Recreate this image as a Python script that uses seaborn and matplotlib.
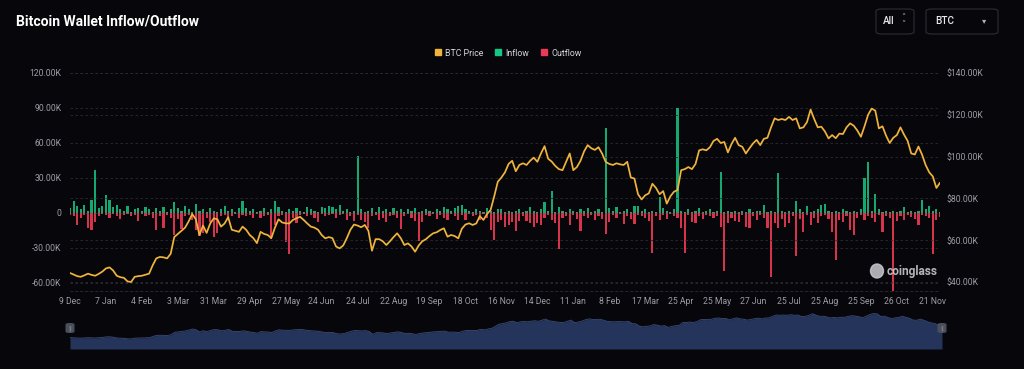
import matplotlib
matplotlib.use("Agg")
import matplotlib.pyplot as plt
from matplotlib.lines import Line2D
from matplotlib.patches import FancyBboxPatch, Ellipse
from matplotlib.ticker import FuncFormatter
import numpy as np
import pandas as pd
import seaborn as sns

# ------------------------------------------------------------------
# Data (values in thousands), one point every ~3 days, Dec 2023 - Nov 2025
# ------------------------------------------------------------------
tick_labels = [
    "9 Dec", "7 Jan", "4 Feb", "3 Mar", "31 Mar", "29 Apr", "27 May", "24 Jun",
    "24 Jul", "22 Aug", "19 Sep", "18 Oct", "16 Nov", "14 Dec", "11 Jan", "8 Feb",
    "17 Mar", "25 Apr", "25 May", "27 Jun", "25 Jul", "25 Aug", "25 Sep", "26 Oct",
    "21 Nov",
]

price_k = [
    44.3, 43.6, 42.8, 42.5, 43.2, 44.0, 43.4, 43.0, 43.9, 45.0,
    46.5, 47.0, 45.5, 43.0, 42.3, 42.0, 40.3, 40.0, 42.5, 42.8,
    43.0, 43.5, 44.0, 48.0, 51.3, 52.0, 51.8, 51.3, 53.5, 61.5,
    63.0, 64.5, 66.0, 69.0, 72.5, 70.0, 62.5, 67.0, 63.5, 68.0,
    70.5, 70.0, 66.5, 68.0, 71.0, 65.0, 64.5, 64.0, 66.5, 65.0,
    62.5, 61.0, 58.6, 64.0, 63.0, 62.5, 61.0, 66.0, 70.0, 68.5,
    68.1, 68.0, 69.7, 70.5, 71.2, 69.7, 68.0, 66.5, 66.0, 65.0,
    62.5, 60.9, 61.5, 61.0, 57.0, 56.1, 57.5, 61.0, 65.0, 67.5,
    67.0, 66.2, 67.3, 64.5, 55.0, 60.5, 60.5, 59.5, 57.7, 59.5,
    61.5, 63.3, 61.0, 57.7, 58.5, 57.0, 54.5, 57.5, 59.5, 60.5,
    62.0, 63.3, 63.8, 64.9, 65.7, 61.7, 62.5, 62.0, 60.9, 65.5,
    67.5, 68.1, 67.3, 68.0, 71.5, 69.7, 72.5, 74.5, 81.0, 88.0,
    90.0, 92.5, 96.5, 98.0, 93.0, 96.0, 96.8, 96.0, 98.0, 99.5,
    97.5, 101.5, 105.0, 99.0, 97.6, 95.5, 94.0, 93.5, 97.5, 101.5,
    93.5, 95.0, 98.0, 102.5, 105.5, 104.0, 103.2, 104.5, 101.5, 97.5,
    96.5, 96.0, 96.8, 96.3, 96.0, 97.5, 90.0, 89.5, 82.0, 79.5,
    81.5, 82.4, 87.0, 85.0, 82.0, 83.5, 77.5, 81.0, 83.2, 84.0,
    93.5, 94.0, 95.0, 94.0, 96.5, 103.0, 103.5, 103.0, 104.5, 107.5,
    108.5, 106.5, 107.0, 102.0, 106.0, 109.0, 105.5, 104.7, 101.5, 104.0,
    106.3, 108.0, 105.5, 108.5, 109.0, 114.0, 118.3, 117.5, 118.0, 117.5,
    119.0, 117.5, 118.3, 113.5, 114.0, 116.5, 122.5, 118.0, 114.0, 114.3,
    112.0, 108.7, 110.3, 108.8, 111.0, 110.8, 114.0, 115.9, 114.8, 112.5,
    109.5, 114.5, 120.0, 123.0, 122.0, 113.5, 114.5, 110.0, 106.5, 109.0,
    110.3, 114.0, 110.5, 107.5, 101.5, 101.0, 104.8, 101.0, 96.0, 92.5,
    90.5, 85.0, 87.5,
]

inflow_k = [
    4, 10, 6, 3, 7, 2, 11, 37, 4, 6,
    15, 11, 5, 7, 3, 2, 6, 1, 3, 4,
    2, 5, 3, 1, 4, 2, 5, 1, 3, 9,
    4, 2, 6, 3, 1, 8, 2, 3, 1, 4,
    2, 1, 3, 6, 2, 3, 1, 4, 10, 4,
    2, 3, 1, 2, 4, 1, 3, 10, 5, 2,
    1, 3, 2, 4, 2, 1, 5, 3, 2, 1,
    5, 4, 6, 5, 3, 7, 2, 3, 1, 2,
    49, 3, 1, 2, 4, 1, 5, 2, 3, 1,
    4, 2, 3, 1, 3, 2, 4, 1, 2, 3,
    2, 1, 3, 2, 5, 3, 2, 4, 6, 7,
    3, 2, 1, 3, 2, 1, 4, 2, 1, 3,
    3, 1, 2, 1, 2, 3, 1, 2, 5, 2,
    1, 3, 9, 2, 19, 1, 5, 2, 1, 3,
    2, 1, 3, 2, 4, 1, 2, 3, 1, 73,
    4, 2, 5, 1, 2, 3, 1, 6, 6, 2,
    3, 1, 2, 1, 14, 4, 2, 1, 3, 90,
    2, 1, 3, 1, 2, 4, 1, 2, 3, 1,
    2, 35, 1, 2, 1, 2, 1, 2, 1, 3,
    1, 2, 2, 7, 1, 2, 1, 34, 2, 1,
    2, 1, 10, 3, 1, 6, 1, 2, 3, 7,
    8, 2, 1, 2, 1, 3, 2, 1, 2, 1,
    3, 30, 44, 2, 16, 3, 1, 2, 1, 2,
    1, 2, 5, 1, 2, 1, 2, 11, 3, 6,
    2, 3, 1,
]

outflow_k = [
    -2, -3, -10, -4, -2, -13, -15, -8, -3, -1,
    -2, -4, -1, -3, -5, -2, -1, -3, -2, -7,
    -1, -3, -2, -4, -15, -3, -13, -2, -4, -19,
    -5, -14, -3, -2, -6, -15, -20, -17, -4, -8,
    -21, -17, -3, -2, -5, -3, -1, -4, -2, -3,
    -2, -4, -1, -4, -3, -2, -22, -10, -3, -2,
    -25, -35, -4, -9, -2, -1, -3, -2, -4, -7.5,
    -1, -3, -2, -1, -4, -2, -1, -6, -3, -7,
    -2, -6, -7.5, -13, -3, -2, -6, -4, -7.5, -3,
    -2, -4, -14, -3, -1, -4, -6.5, -24, -7.5, -2,
    -3, -1, -5.4, -2, -4, -6, -1, -3, -6, -2,
    -6, -1, -3, -2, -6, -1, -4, -15, -23, -7.5,
    -6, -11.7, -10, -8, -15.4, -7, -3, -7, -9, -11.7,
    -9, -10, -4, -2, -6, -9, -31, -4, -3, -10,
    -2, -5, -15.4, -3, -4.5, -2, -6, -3, -5, -18.3,
    -7.4, -2, -4, -1, -9.7, -3, -5, -9.7, -2, -3,
    -4, -7, -34, -3, -6, -2, -5, -1, -3, -4,
    -13, -34, -2, -7.4, -9, -3, -5, -2, -3, -4,
    -3, -11.7, -50, -9, -4, -7, -7.4, -2, -11.7, -13,
    -3, -6, -2, -4, -13, -55, -9, -13, -5, -11.7,
    -9, -3, -37, -5, -16, -2, -10, -4, -9, -3,
    -2, -5, -16, -40, -6, -7.4, -3, -14.6, -19, -4,
    -2, -6, -3, -4, -7.4, -2, -16, -3, -4.6, -67,
    -7, -3, -6, -2, -3.7, -5, -10, -2, -3, -4,
    -35, -6, -3.7,
]

assert len(price_k) == len(inflow_k) == len(outflow_k)

# ------------------------------------------------------------------
# Style
# ------------------------------------------------------------------
BG = "#07070b"
GRID = "#2a2a33"
LABEL = "#9c9ca6"
PRICE_C = "#f0b43c"
IN_C = "#15a870"
OUT_C = "#d6334d"

sns.set_theme(style="dark")
plt.rcParams["font.family"] = ["Roboto", "DejaVu Sans"]

W, H = 1024, 369
fig = plt.figure(figsize=(W / 100, H / 100), dpi=100)
fig.patch.set_facecolor(BG)


def fx(px):
    return px / W


def fy(py):
    return 1 - py / H


df = pd.DataFrame({
    "idx": np.arange(len(price_k)),
    "price": price_k,
    "inflow": inflow_k,
    "outflow": outflow_k,
})
n = len(df)

# ------------------------------------------------------------------
# Main chart: bars on left axis, price on right axis
# ------------------------------------------------------------------
ax = fig.add_axes([fx(70), fy(291), fx(870), 218 / H])
ax.set_facecolor(BG)

sns.barplot(data=df, x="idx", y="inflow", color=IN_C, width=0.6,
            saturation=1, edgecolor="none", ax=ax)
sns.barplot(data=df, x="idx", y="outflow", color=OUT_C, width=0.6,
            saturation=1, edgecolor="none", ax=ax)

ax.set_ylim(-66.9, 120)
ax.set_yticks([-60, -30, 0, 30, 60, 90, 120])
ax.yaxis.set_major_formatter(
    FuncFormatter(lambda v, p: "0" if v == 0 else f"{v:.2f}K"))

ax2 = ax.twinx()
sns.lineplot(data=df, x="idx", y="price", color=PRICE_C, linewidth=1.25, ax=ax2)
ax2.set_ylim(35.7, 140)
ax2.set_yticks([40, 60, 80, 100, 120, 140])
ax2.yaxis.set_major_formatter(FuncFormatter(lambda v, p: f"${v:.2f}K"))

ax.set_xlim(0, n - 1)
ax.set_xticks(np.arange(0, n, 10)[:len(tick_labels)])
ax.set_xticklabels(tick_labels)

for a in (ax, ax2):
    a.set_xlabel("")
    a.set_ylabel("")
    a.grid(False)
    a.yaxis.grid(True, color=GRID, linestyle=(0, (3, 3)), linewidth=0.6)
    for s in a.spines.values():
        s.set_visible(False)
    a.tick_params(colors=LABEL, labelsize=6.2, length=0)
ax.spines["bottom"].set_visible(True)
ax.spines["bottom"].set_color(GRID)
ax.spines["bottom"].set_linestyle((0, (3, 3)))
ax.spines["bottom"].set_linewidth(0.6)
ax.tick_params(axis="y", pad=6)
ax.tick_params(axis="x", pad=4)
ax2.tick_params(axis="y", pad=5)

# watermark
fig.text(fx(887), fy(272), "coinglass", color="#d4d4da", alpha=0.85,
         fontsize=8.6, fontweight="bold", va="center", ha="left")
fig.patches.append(Ellipse((fx(877), fy(271)), fx(13), 14 / H,
                           transform=fig.transFigure, color="#c9c9cf", alpha=0.85))

# ------------------------------------------------------------------
# Header, legend and controls
# ------------------------------------------------------------------
fig.text(fx(16), fy(21), "Bitcoin Wallet Inflow/Outflow", color="white",
         fontsize=10, fontweight="bold", va="center", ha="left")

handles = [
    Line2D([], [], marker="s", linestyle="", markersize=5, color=PRICE_C),
    Line2D([], [], marker="s", linestyle="", markersize=5, color="#16c784"),
    Line2D([], [], marker="s", linestyle="", markersize=5, color="#ea3a55"),
]
fig.legend(handles, ["BTC Price", "Inflow", "Outflow"], loc="center",
           bbox_to_anchor=(fx(508), fy(53)), ncol=3, frameon=False,
           fontsize=6.3, labelcolor="#d6d6dc", handlelength=0.8,
           handletextpad=0.4, columnspacing=1.3)

for x0, x1 in [(876, 914), (926, 998)]:
    fig.patches.append(FancyBboxPatch(
        (fx(x0), fy(34)), fx(x1 - x0), 25 / H,
        boxstyle="round,pad=0,rounding_size=0.006",
        transform=fig.transFigure, facecolor=BG, edgecolor="#2b2e36",
        linewidth=0.8))
fig.text(fx(883), fy(21.5), "All", color="#e8e8ee", fontsize=7.2,
         fontweight="medium", va="center", ha="left")
fig.text(fx(903), fy(18), "˄", color="#b0b0b8", fontsize=6, va="center", ha="center")
fig.text(fx(903), fy(25), "˅", color="#b0b0b8", fontsize=6, va="center", ha="center")
fig.text(fx(935), fy(21.5), "BTC", color="#e8e8ee", fontsize=7.2,
         fontweight="medium", va="center", ha="left")
fig.text(fx(984), fy(21.5), "▾", color="#b0b0b8", fontsize=6, va="center", ha="center")

# ------------------------------------------------------------------
# Data-zoom slider
# ------------------------------------------------------------------
sx = fig.add_axes([fx(70), fy(349), fx(872), 44 / H])
sx.set_facecolor("#0b1229")
sns.lineplot(data=df, x="idx", y="price", color="#3c4c78", linewidth=0.6, ax=sx)
sx.fill_between(df["idx"], df["price"], 7, color="#25345a", linewidth=0)
sx.set_xlim(0, n - 1)
sx.set_ylim(7, 151)
sx.set_axis_off()

for cx in (70, 942):
    fig.patches.append(FancyBboxPatch(
        (fx(cx - 4.5), fy(333)), fx(9), 10 / H,
        boxstyle="round,pad=0,rounding_size=0.004",
        transform=fig.transFigure, facecolor="#4a4f5c", edgecolor="none"))
    fig.text(fx(cx), fy(328), "‖", color="#8a8f9a", fontsize=4,
             va="center", ha="center")

fig.savefig("out.png", dpi=100, facecolor=BG)
